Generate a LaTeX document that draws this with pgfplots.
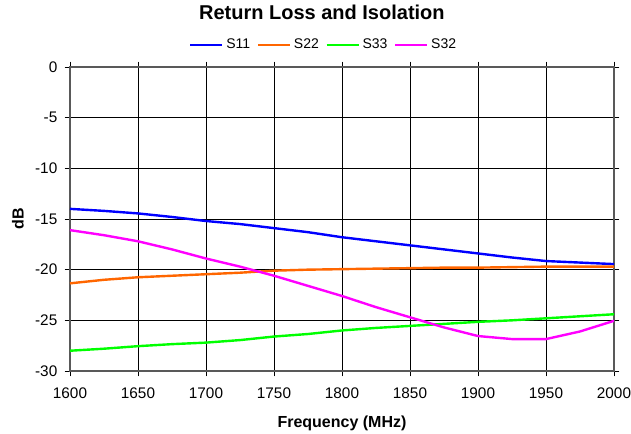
\documentclass[border=0pt]{standalone}
\usepackage{pgfplots}
\pgfplotsset{compat=1.18}
\usepackage{fontspec}
\setmainfont{Liberation Sans}

\definecolor{cS11}{RGB}{0,0,255}
\definecolor{cS22}{RGB}{255,102,0}
\definecolor{cS33}{RGB}{0,255,0}
\definecolor{cS32}{RGB}{255,0,255}

\begin{document}
\begin{tikzpicture}
\begin{axis}[
    name=ax,
    scale only axis,
    width=408pt,
    height=228pt,
    xmin=1600, xmax=2000,
    ymin=-30, ymax=0,
    xtick={1600,1650,...,2000},
    ytick={-30,-25,...,0},
    grid=major,
    major grid style={black, line width=0.7pt},
    axis line style={draw=gray!70!black, line width=1.1pt},
    tick style={black, line width=0.7pt},
    tick align=outside,
    major tick length=4pt,
    tick label style={font=\fontsize{11.5}{13}\selectfont},
    xticklabel style={yshift=-5pt},
    yticklabel style={xshift=-2pt},
    /pgf/number format/assume math mode=true,
    /pgf/number format/1000 sep={},
    xlabel={\bfseries Frequency (MHz)},
    ylabel={\bfseries dB},
    label style={font=\fontsize{12}{14}\selectfont},
    xlabel style={at={(axis description cs:0.5,-0.171)}, anchor=center},
    ylabel style={at={(axis description cs:-0.0956,0.5)}, anchor=center},
    title={\bfseries Return Loss and Isolation},
    title style={at={(axis description cs:0.463,1.155)}, anchor=center, font=\fontsize{15}{17}\selectfont},
    legend columns=-1,
    legend style={at={(axis description cs:0.467,1.072)}, anchor=center, draw=none,
        font=\fontsize{10.5}{12}\selectfont,
        /tikz/every even column/.append style={column sep=3pt}},
    legend image code/.code={\draw[#1] (0pt,0pt) -- (24pt,0pt);},
    every axis plot/.append style={line width=1.8pt, mark=none},
]
\addplot[cS11] coordinates {
    (1600,-14.0) (1625,-14.2) (1650,-14.45) (1675,-14.8) (1700,-15.2)
    (1725,-15.5) (1750,-15.9) (1775,-16.3) (1800,-16.8) (1825,-17.2)
    (1850,-17.6) (1875,-18.0) (1900,-18.4) (1925,-18.8) (1950,-19.15)
    (1975,-19.3) (2000,-19.45)
};
\addplot[cS22] coordinates {
    (1600,-21.35) (1625,-21.0) (1650,-20.75) (1675,-20.6) (1700,-20.45)
    (1725,-20.3) (1750,-20.1) (1775,-20.0) (1800,-19.95) (1825,-19.9)
    (1850,-19.85) (1875,-19.8) (1900,-19.8) (1925,-19.75) (1950,-19.7)
    (1975,-19.7) (2000,-19.7)
};
\addplot[cS33] coordinates {
    (1600,-28.0) (1625,-27.8) (1650,-27.55) (1675,-27.35) (1700,-27.2)
    (1725,-26.95) (1750,-26.6) (1775,-26.35) (1800,-26.0) (1825,-25.75)
    (1850,-25.55) (1875,-25.35) (1900,-25.15) (1925,-25.0) (1950,-24.8)
    (1975,-24.6) (2000,-24.4)
};
\addplot[cS32] coordinates {
    (1600,-16.1) (1625,-16.6) (1650,-17.2) (1675,-18.0) (1700,-18.9)
    (1725,-19.7) (1750,-20.6) (1775,-21.6) (1800,-22.6) (1825,-23.7)
    (1850,-24.7) (1875,-25.7) (1900,-26.55) (1925,-26.85) (1950,-26.85)
    (1975,-26.1) (2000,-25.05)
};
\legend{S11, S22, S33, S32}
\end{axis}
\pgfresetboundingbox
\path ([shift={(-52.5pt,-47.25pt)}]ax.south west) rectangle ([shift={(12.75pt,50.25pt)}]ax.north east);
\end{tikzpicture}
\end{document}
